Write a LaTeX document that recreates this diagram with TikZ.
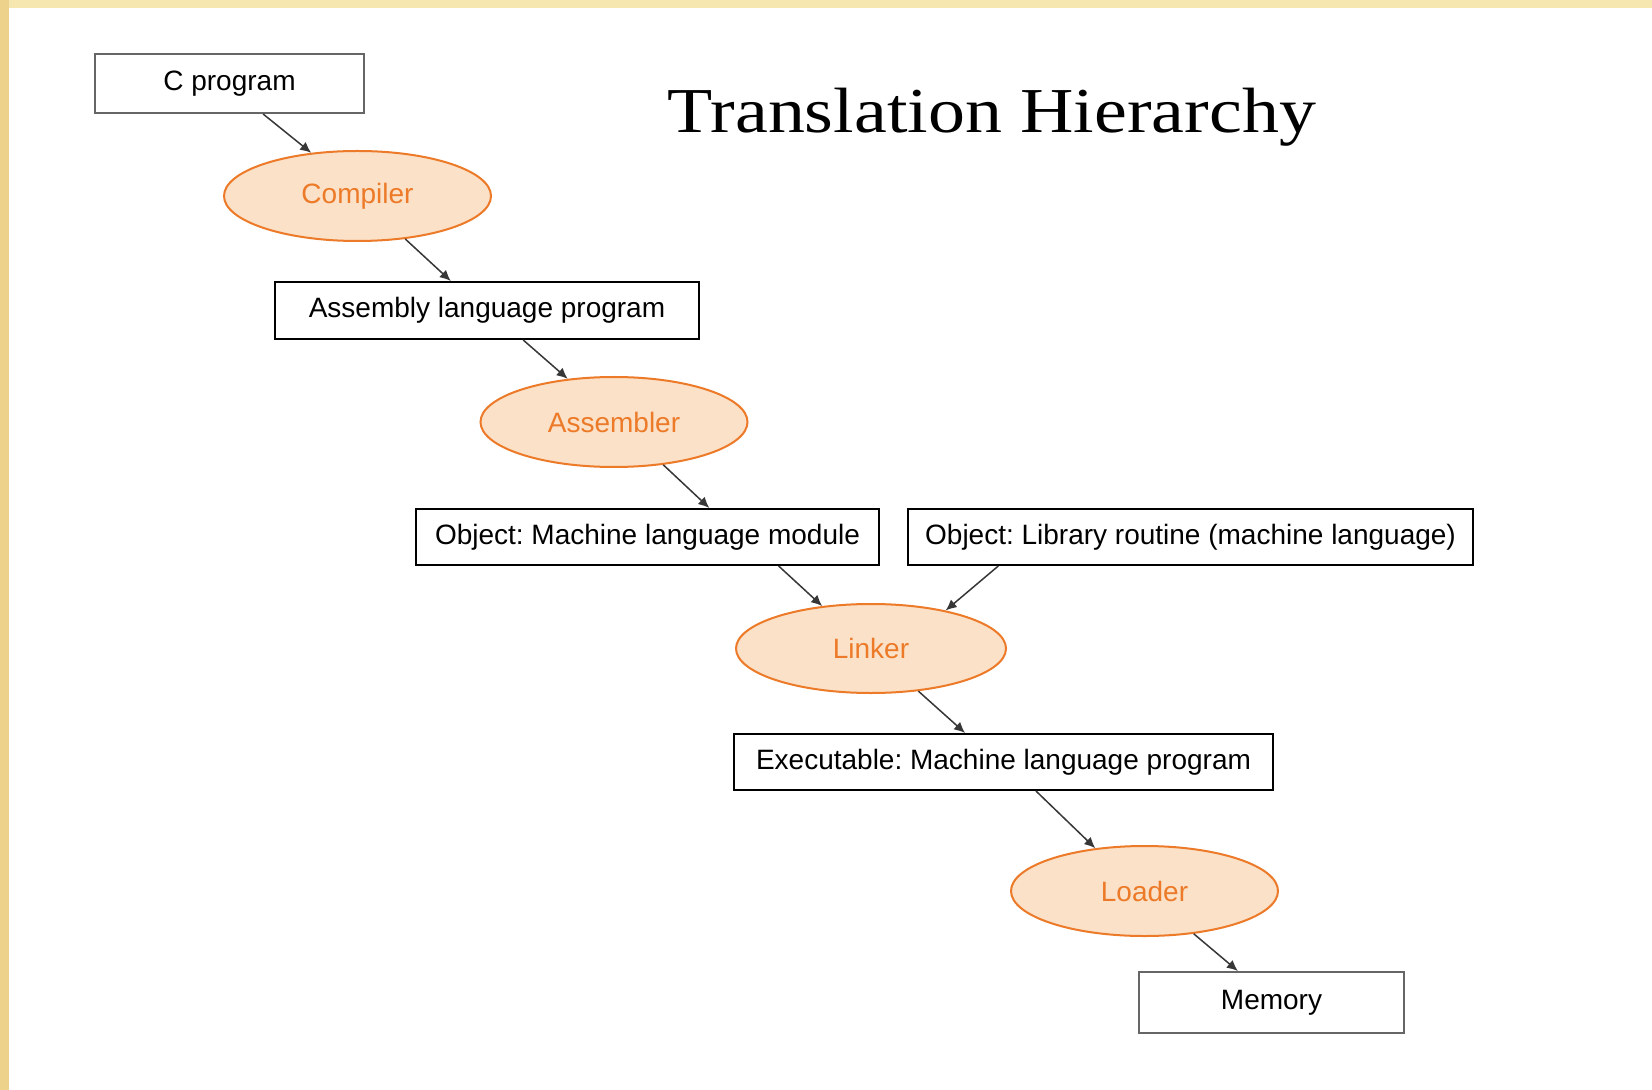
\documentclass[tikz,border=0pt]{standalone}
\usepackage{fontspec}
\setmainfont{Liberation Serif}
\setsansfont{Liberation Sans}
\usetikzlibrary{arrows.meta,calc,shapes.geometric}
\definecolor{padyel}{RGB}{246,230,176}
\definecolor{padgold}{RGB}{236,210,138}
\definecolor{ovfill}{RGB}{251,225,200}
\definecolor{ovline}{RGB}{236,122,40}
\definecolor{arrgray}{RGB}{55,55,55}
\tikzset{
 prog/.style={draw=black,line width=1pt,fill=white,inner sep=0pt,font=\sffamily\fontsize{14}{16}\selectfont},
 tool/.style={ellipse,draw=ovline,line width=1pt,fill=ovfill,text=ovline,inner sep=0pt,minimum width=133.5pt,minimum height=45pt,font=\sffamily\fontsize{14}{16}\selectfont},
 flow/.style={draw=arrgray,line width=.75pt,-{Latex[length=5.5pt,width=5pt]}}
}
\frenchspacing
\begin{document}
\begin{tikzpicture}[x=.5pt,y=-.5pt]
% slide background
\fill[white](0,0)rectangle(1652,1090);
\fill[padyel](0,0)rectangle(1652,8);
\fill[padgold](0,0)rectangle(9,1090);
\useasboundingbox(0,0)rectangle(1652,1090);
\node[anchor=base,inner sep=0pt,font=\fontsize{32}{36}\selectfont](title)at(992,133){\scalebox{1.155}[1]{Translation Hierarchy}};
% programs and tools
\node[prog,draw=black!60,minimum width=134.5pt,minimum height=29.5pt](cprog)at(229.5,83.5){C program};
\node[tool](compiler)at(357.5,196){Compiler};
\node[prog,minimum width=212pt,minimum height=28.5pt](asmprog)at(487,310.5){Assembly language program};
\node[tool](assembler)at(614,422){Assembler};
\node[prog,minimum width=231.5pt,minimum height=28pt](objmod)at(647.5,537){Object: Machine language module};
\node[prog,minimum width=282.5pt,minimum height=28pt](objlib)at(1190.5,537){Object: Library routine (machine language)};
\node[tool,minimum width=135pt,minimum height=44.5pt](linker)at(871,648.5){Linker};
\node[prog,minimum width=269.5pt,minimum height=28pt](exe)at(1003.5,762){Executable: Machine language program};
\node[tool](loader)at(1144.5,891){Loader};
\node[prog,draw=black!60,minimum width=132.5pt,minimum height=30.5pt](memory)at(1271.5,1002.5){Memory};
% arrows
\draw[flow]($(cprog.south west)!.624!(cprog.south east)$)--(compiler.137);
\draw[flow](compiler.-42)--($(asmprog.north west)!.415!(asmprog.north east)$);
\draw[flow]($(asmprog.south west)!.585!(asmprog.south east)$)--(assembler.137);
\draw[flow](assembler.-41)--($(objmod.north west)!.633!(objmod.north east)$);
\draw[flow]($(objmod.south west)!.782!(objmod.south east)$)--(linker.139);
\draw[flow]($(objlib.south west)!.161!(objlib.south east)$)--(linker.27);
\draw[flow](linker.-42)--($(exe.north west)!.429!(exe.north east)$);
\draw[flow]($(exe.south west)!.56!(exe.south east)$)--(loader.139);
\draw[flow](loader.-41)--($(memory.north west)!.374!(memory.north east)$);
\end{tikzpicture}
\end{document}
